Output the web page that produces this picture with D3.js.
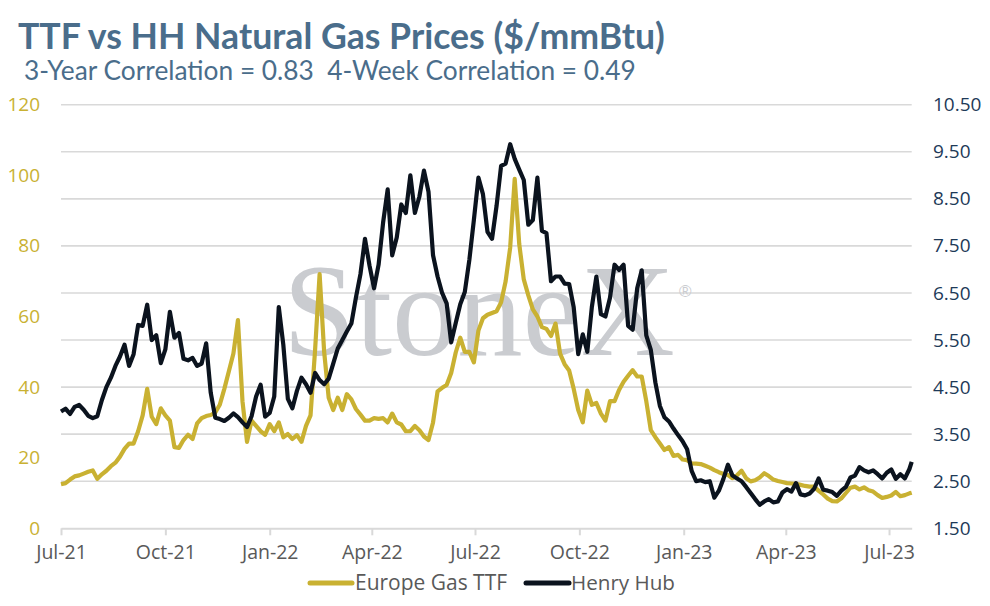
<!DOCTYPE html>
<html><head><meta charset="utf-8">
<script src="https://cdn.jsdelivr.net/npm/d3@7"></script>
<style>body{margin:0;background:#fff;} svg{display:block;}</style>
</head><body><svg id="c" width="990" height="606"></svg>
<script>
const dates = [
"2021-07-01","2021-07-05","2021-07-09","2021-07-13","2021-07-17","2021-07-21","2021-07-25","2021-07-29",
"2021-08-02","2021-08-06","2021-08-10","2021-08-14","2021-08-18","2021-08-22","2021-08-26","2021-08-30",
"2021-09-03","2021-09-07","2021-09-11","2021-09-15","2021-09-19","2021-09-23","2021-09-27",
"2021-10-01","2021-10-05","2021-10-09","2021-10-13","2021-10-17","2021-10-21","2021-10-25","2021-10-29",
"2021-11-02","2021-11-06","2021-11-10","2021-11-14","2021-11-18","2021-11-22","2021-11-26","2021-11-30",
"2021-12-04","2021-12-08","2021-12-12","2021-12-16","2021-12-20","2021-12-24","2021-12-28",
"2022-01-01","2022-01-05","2022-01-09","2022-01-13","2022-01-17","2022-01-21","2022-01-25","2022-01-29",
"2022-02-02","2022-02-06","2022-02-10","2022-02-14","2022-02-18","2022-02-22","2022-02-26",
"2022-03-02","2022-03-06","2022-03-10","2022-03-14","2022-03-18","2022-03-22","2022-03-26","2022-03-30",
"2022-04-03","2022-04-07","2022-04-11","2022-04-15","2022-04-19","2022-04-23","2022-04-27",
"2022-05-01","2022-05-05","2022-05-09","2022-05-13","2022-05-17","2022-05-21","2022-05-25","2022-05-29",
"2022-06-02","2022-06-06","2022-06-10","2022-06-14","2022-06-18","2022-06-22","2022-06-26","2022-06-30",
"2022-07-04","2022-07-08","2022-07-12","2022-07-16","2022-07-20","2022-07-24","2022-07-28",
"2022-08-01","2022-08-05","2022-08-09","2022-08-13","2022-08-17","2022-08-21","2022-08-25","2022-08-29",
"2022-09-02","2022-09-06","2022-09-10","2022-09-14","2022-09-18","2022-09-22","2022-09-26","2022-09-30",
"2022-10-04","2022-10-08","2022-10-12","2022-10-16","2022-10-20","2022-10-24","2022-10-28",
"2022-11-01","2022-11-05","2022-11-09","2022-11-13","2022-11-17","2022-11-21","2022-11-25","2022-11-29",
"2022-12-03","2022-12-07","2022-12-11","2022-12-15","2022-12-19","2022-12-23","2022-12-27","2022-12-31",
"2023-01-04","2023-01-08","2023-01-12","2023-01-16","2023-01-20","2023-01-24","2023-01-28",
"2023-02-01","2023-02-05","2023-02-09","2023-02-13","2023-02-17","2023-02-21","2023-02-25",
"2023-03-01","2023-03-05","2023-03-09","2023-03-13","2023-03-17","2023-03-21","2023-03-25","2023-03-29",
"2023-04-02","2023-04-06","2023-04-10","2023-04-14","2023-04-18","2023-04-22","2023-04-26","2023-04-30",
"2023-05-04","2023-05-08","2023-05-12","2023-05-16","2023-05-20","2023-05-24","2023-05-28",
"2023-06-01","2023-06-05","2023-06-09","2023-06-13","2023-06-17","2023-06-21","2023-06-25","2023-06-29",
"2023-07-03","2023-07-07","2023-07-11","2023-07-15","2023-07-19","2023-07-21"
];
const ttfValues = [
12.5,12.8,13.8,14.7,15.0,15.5,16.0,16.4,14.0,15.3,
16.3,17.6,18.6,20.3,22.5,24.0,24.0,27.5,32.0,39.5,
31.6,29.5,34.0,32.0,30.5,23.0,22.8,25.0,26.5,25.3,
29.7,31.2,31.8,32.1,32.8,35.0,39.5,44.5,49.5,59.0,
36.0,24.5,30.5,29.0,27.5,26.5,29.5,27.5,30.0,25.8,
26.7,25.3,26.4,24.5,29.0,32.0,50.5,72.0,50.0,37.0,
33.5,37.0,33.5,38.0,36.5,33.8,32.2,30.5,30.5,31.2,
31.0,31.2,30.0,32.5,30.0,29.4,27.5,27.5,29.0,27.8,
26.0,25.0,30.0,38.8,39.8,40.6,44.0,49.8,54.0,50.0,
50.0,47.0,56.0,59.5,60.5,61.0,61.5,64.0,70.0,79.5,
99.0,80.5,70.5,66.0,62.0,60.0,57.0,56.5,54.5,58.0,
49.5,46.5,44.7,39.5,33.5,30.0,39.0,35.0,35.5,32.5,
30.5,36.0,36.0,39.2,41.5,43.2,44.8,43.0,43.0,36.0,
27.8,25.8,24.0,22.2,23.0,20.5,20.8,19.5,19.3,18.4,
18.3,18.2,17.7,17.2,16.5,15.9,15.4,15.1,14.2,15.0,
16.3,14.2,13.3,13.6,14.4,15.6,14.8,13.8,13.4,13.1,
12.8,12.7,12.6,12.3,12.0,11.8,11.8,10.6,9.6,8.4,
7.7,7.6,8.5,10.0,11.5,11.8,11.0,11.6,10.8,10.4,
9.4,8.6,8.9,9.3,10.3,9.1,9.4,9.9,10.1
];
const henryHubValues = [
3.98,4.04,3.93,4.08,4.12,4.02,3.89,3.84,3.88,4.22,
4.50,4.70,4.95,5.15,5.40,4.95,5.20,5.82,5.80,6.25,
5.50,5.60,5.01,5.30,6.10,5.55,5.65,5.10,5.07,5.12,
4.95,5.00,5.43,4.38,3.85,3.82,3.78,3.85,3.94,3.86,
3.75,3.65,3.88,4.30,4.55,3.87,3.95,4.30,6.20,5.40,
4.25,4.05,4.42,4.70,4.56,4.38,4.80,4.65,4.56,4.68,
5.00,5.32,5.50,5.68,5.85,6.40,6.90,7.65,7.08,6.60,
7.10,8.00,8.70,7.30,7.68,8.38,8.20,9.00,8.20,8.55,
9.10,8.65,7.30,6.85,6.50,6.28,5.45,5.86,6.26,6.52,
7.20,8.05,8.95,8.60,7.80,7.65,8.35,9.20,9.25,9.66,
9.35,9.12,8.90,7.95,8.05,8.95,7.82,7.77,6.75,6.85,
6.85,6.70,6.69,6.20,5.20,5.62,5.25,6.20,6.85,6.05,
6.00,6.40,7.10,6.99,7.10,5.80,5.72,6.60,6.98,5.60,
5.29,4.60,4.10,3.86,3.77,3.62,3.48,3.35,3.18,2.72,
2.50,2.52,2.48,2.50,2.15,2.30,2.55,2.85,2.62,2.56,
2.50,2.38,2.25,2.12,2.00,2.07,2.12,2.05,2.07,2.26,
2.33,2.28,2.46,2.22,2.20,2.24,2.34,2.56,2.32,2.30,
2.27,2.19,2.30,2.38,2.58,2.62,2.80,2.73,2.69,2.73,
2.65,2.56,2.68,2.75,2.55,2.65,2.56,2.76,2.91
];
const leftTicks = [0, 20, 40, 60, 80, 100, 120];
const rightTicks = [1.5, 2.5, 3.5, 4.5, 5.5, 6.5, 7.5, 8.5, 9.5, 10.5];
const xTickDates = ["2021-07-01","2021-10-01","2022-01-01","2022-04-01","2022-07-01","2022-10-01","2023-01-01","2023-04-01","2023-07-01"];
const xDomain = ["2021-07-01","2023-07-21"];
const seriesNames = ["Europe Gas TTF", "Henry Hub"];
const titleText = "TTF vs HH Natural Gas Prices ($/mmBtu)";
const subtitleText = "3-Year Correlation = 0.83  4-Week Correlation = 0.49";
const watermarkText = "StoneX";

const GOLD = "#c9b132", DARK = "#0b131e", GRID = "#d9d9d9";
const SANS = "'Open Sans', sans-serif";
const parse = d3.utcParse("%Y-%m-%d");
const svg = d3.select("#c");
const L = 61, R = 911.7, T = 104.7, B = 528.3;
const x = d3.scaleUtc().domain(xDomain.map(parse)).range([L, R]);
const yL = d3.scaleLinear().domain([0, 120]).range([B, T]);
const yR = d3.scaleLinear().domain([1.5, 10.5]).range([B, T]);

function fit(sel, w) {
  const n = sel.node(); const fs = parseFloat(sel.attr("font-size"));
  const len = n.getComputedTextLength();
  sel.attr("font-size", (fs * w / len).toFixed(2));
}

// gridlines
svg.append("g").selectAll("line").data(rightTicks.slice(1)).join("line")
  .attr("x1", L).attr("x2", R).attr("y1", d => yR(d)).attr("y2", d => yR(d))
  .attr("stroke", GRID).attr("stroke-width", 1.6);

// watermark
const wm = svg.append("text").attr("x", 283).attr("y", 355)
  .style("font-family", "'Liberation Serif', 'DejaVu Serif', serif").attr("font-size", 125)
  .attr("fill", "#caccd0").text(watermarkText);
fit(wm, 392);
svg.append("text").attr("x", 679).attr("y", 297).style("font-family", "'Liberation Sans', sans-serif")
  .attr("font-size", 17).attr("fill", "#caccd0").text("\u00AE");

// x axis
const xAxis = svg.append("g").attr("transform", `translate(0,${B})`)
  .call(d3.axisBottom(x).tickValues(xTickDates.map(parse)).tickFormat(d3.utcFormat("%b-%y"))
    .tickSize(7).tickSizeOuter(0).tickPadding(10));
xAxis.select(".domain").attr("stroke", GRID).attr("stroke-width", 2);
xAxis.selectAll(".tick line").attr("stroke", GRID).attr("stroke-width", 2);
xAxis.selectAll(".tick text").attr("fill", "#595959").attr("font-size", 19.5).style("font-family", SANS);

// left axis
const la = svg.append("g").attr("transform", "translate(40,0)")
  .call(d3.axisLeft(yL).tickValues(leftTicks).tickSize(0).tickPadding(0));
la.select(".domain").remove();
la.selectAll("text").attr("fill", GOLD).attr("font-size", 19).style("font-family", SANS);

// right axis
const ra = svg.append("g").attr("transform", "translate(933,0)")
  .call(d3.axisRight(yR).tickValues(rightTicks).tickFormat(d3.format(".2f")).tickSize(0).tickPadding(0));
ra.select(".domain").remove();
ra.selectAll("text").attr("fill", "#1e3a58").attr("font-size", 19).style("font-family", SANS);

// lines
const dParsed = dates.map(parse);
const ttfData = dParsed.map((d, i) => ({ date: d, v: ttfValues[i] }));
const hhData = dParsed.map((d, i) => ({ date: d, v: henryHubValues[i] }));
svg.append("path").datum(ttfData).attr("fill", "none").attr("stroke", GOLD).attr("stroke-width", 4.2)
  .attr("stroke-linejoin", "round").attr("d", d3.line().x(d => x(d.date)).y(d => yL(d.v)));
svg.append("path").datum(hhData).attr("fill", "none").attr("stroke", DARK).attr("stroke-width", 4.2)
  .attr("stroke-linejoin", "round").attr("d", d3.line().x(d => x(d.date)).y(d => yR(d.v)));

// title
const tt = svg.append("text").attr("x", 18).attr("y", 49).attr("font-size", 29).attr("font-weight", 700)
  .attr("fill", "#4a6d8b").style("font-family", "Lato, sans-serif").text(titleText);
fit(tt, 647);
const st = svg.append("text").attr("x", 24).attr("y", 80).attr("font-size", 21)
  .attr("fill", "#4a6d8b").style("font-family", "Lato, sans-serif")
  .style("white-space", "pre").text(subtitleText);
fit(st, 612);

// legend
const lg = svg.append("g");
const legendItems = [
  { name: seriesNames[0], color: GOLD, x0: 310, x1: 352, tx: 355, w: 152 },
  { name: seriesNames[1], color: DARK, x0: 526, x1: 569, tx: 571, w: 104 }
];
legendItems.forEach(it => {
  lg.append("line").attr("x1", it.x0).attr("x2", it.x1).attr("y1", 583).attr("y2", 583)
    .attr("stroke", it.color).attr("stroke-width", 5).attr("stroke-linecap", "round");
  const t = lg.append("text").attr("x", it.tx).attr("y", 590).attr("font-size", 19)
    .attr("fill", "#595959").style("font-family", SANS).text(it.name);
  fit(t, it.w);
});
</script></body></html>
